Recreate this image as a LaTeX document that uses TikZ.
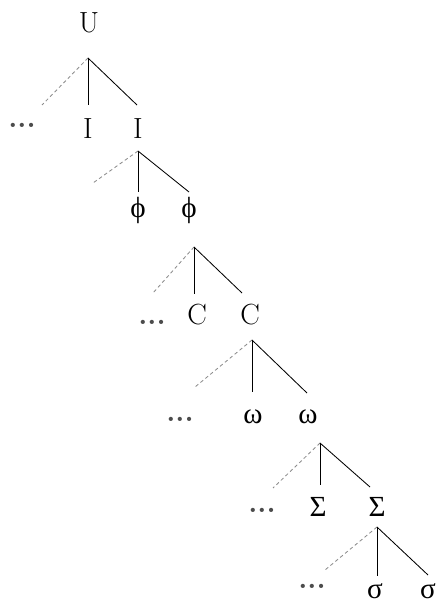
\documentclass[tikz,border=0pt]{standalone}
\usepackage{fontspec}
\newfontfamily\grk{Liberation Serif}
\begin{document}
\begin{tikzpicture}[line width=0.6pt,
    faint/.style={dashed, dash pattern=on 2.5pt off 2pt, black!45},
    lbl/.style={inner sep=0pt, font=\huge},
    ellip/.style={inner sep=0pt, font=\huge\bfseries, text=black!70}]
      \useasboundingbox (0,0) rectangle (10.925,-15.075);
      \node[lbl] (U) at (2.225,-0.575) {U};
      \coordinate (a0) at (2.2,-1.45);
      \coordinate (d0) at (1.05,-2.625);
      \coordinate (v0) at (2.2,-2.625);
      \coordinate (r0) at (3.425,-2.625);
      \node[ellip] (m0) at (0.55,-3.125) {...};
      \node[lbl] (I1) at (2.2,-3.225) {I};
      \node[lbl] (I2) at (3.45,-3.225) {I};
      \draw[faint] (a0) -- (d0);
      \draw (a0) -- (v0);
      \draw (a0) -- (r0);
      \coordinate (a1) at (3.45,-3.775);
      \coordinate (d1) at (2.325,-4.575);
      \coordinate (v1) at (3.45,-4.8);
      \coordinate (r1) at (4.725,-4.8);
      \node[lbl] (phi1) at (3.45,-5.25) {\grk ϕ};
      \node[lbl] (phi2) at (4.725,-5.25) {\grk ϕ};
      \draw[faint] (a1) -- (d1);
      \draw (a1) -- (v1);
      \draw (a1) -- (r1);
      \coordinate (a2) at (4.85,-6.175);
      \coordinate (d2) at (3.825,-7.325);
      \coordinate (v2) at (4.85,-7.35);
      \coordinate (r2) at (6.05,-7.325);
      \node[ellip] (m2) at (3.8,-8.05) {...};
      \node[lbl] (C1) at (4.925,-7.875) {C};
      \node[lbl] (C2) at (6.25,-7.875) {C};
      \draw[faint] (a2) -- (d2);
      \draw (a2) -- (v2);
      \draw (a2) -- (r2);
      \coordinate (a3) at (6.3,-8.5);
      \coordinate (d3) at (4.875,-9.675);
      \coordinate (v3) at (6.3,-9.8);
      \coordinate (r3) at (7.675,-9.825);
      \node[ellip] (m3) at (4.5,-10.475) {...};
      \node[lbl] (om1) at (6.325,-10.425) {\grk ω};
      \node[lbl] (om2) at (7.7,-10.425) {\grk ω};
      \draw[faint] (a3) -- (d3);
      \draw (a3) -- (v3);
      \draw (a3) -- (r3);
      \coordinate (a4) at (8,-11.075);
      \coordinate (d4) at (6.825,-12.2);
      \coordinate (v4) at (8,-12.125);
      \coordinate (r4) at (9.25,-12.175);
      \node[ellip] (m4) at (6.55,-12.75) {...};
      \node[lbl] (S1) at (7.95,-12.675) {\grk Σ};
      \node[lbl] (S2) at (9.425,-12.675) {\grk Σ};
      \draw[faint] (a4) -- (d4);
      \draw (a4) -- (v4);
      \draw (a4) -- (r4);
      \coordinate (a5) at (9.425,-13.175);
      \coordinate (d5) at (8.125,-14.25);
      \coordinate (v5) at (9.425,-14.4);
      \coordinate (r5) at (10.7,-14.375);
      \node[ellip] (m5) at (7.8,-14.65) {...};
      \node[lbl] (s1) at (9.375,-14.775) {\grk σ};
      \node[lbl] (s2) at (10.7,-14.775) {\grk σ};
      \draw[faint] (a5) -- (d5);
      \draw (a5) -- (v5);
      \draw (a5) -- (r5);
\end{tikzpicture}
\end{document}
